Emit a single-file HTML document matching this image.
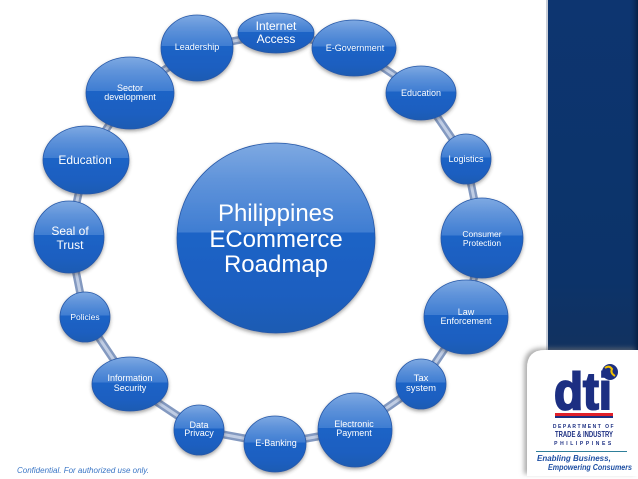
<!DOCTYPE html>
<html><head><meta charset="utf-8"><style>
html,body{margin:0;padding:0;background:#fff;}
body{width:638px;height:479px;overflow:hidden;position:relative;font-family:"Liberation Sans",sans-serif;}
svg{position:absolute;left:0;top:0;}
</style></head><body>
<svg width="638" height="479" viewBox="0 0 638 479" xmlns="http://www.w3.org/2000/svg">
<defs>
<linearGradient id="g" x1="0" y1="0" x2="0" y2="1">
<stop offset="0" stop-color="#7ea9e2"/>
<stop offset="0.2" stop-color="#5f93da"/>
<stop offset="0.47" stop-color="#3f7dd2"/>
<stop offset="0.47" stop-color="#1c64c6"/>
<stop offset="0.8" stop-color="#1a5ec0"/>
<stop offset="1" stop-color="#1f5cb2"/>
</linearGradient>
<linearGradient id="side" x1="0" y1="0" x2="0" y2="1">
<stop offset="0" stop-color="#0d3570"/>
<stop offset="0.8" stop-color="#0c3369"/>
<stop offset="1" stop-color="#12325f"/>
</linearGradient>
<linearGradient id="sideR" x1="0" y1="0" x2="1" y2="0">
<stop offset="0" stop-color="#0c2c5c" stop-opacity="0"/>
<stop offset="1" stop-color="#061d40" stop-opacity="0.9"/>
</linearGradient>
<filter id="sh" x="-30%" y="-30%" width="160%" height="170%">
<feDropShadow dx="0" dy="2" stdDeviation="1.8" flood-color="#333" flood-opacity="0.45"/>
</filter>
<filter id="bsh" x="-20%" y="-20%" width="140%" height="140%">
<feDropShadow dx="-3" dy="-2" stdDeviation="2.5" flood-color="#777" flood-opacity="0.6"/>
</filter>
</defs>

<!-- sidebar -->
<rect x="547" y="0" width="91" height="352" fill="url(#side)"/>
<rect x="630" y="0" width="8" height="352" fill="url(#sideR)"/>
<rect x="546" y="0" width="2" height="352" fill="#c9ced8"/>

<!-- logo box -->
<path d="M527 368 Q527 350 545 350 L638 350 L638 476 L527 476 Z" fill="#fff" filter="url(#bsh)"/>
<rect x="600" y="350" width="38" height="4" fill="#fff"/>

<!-- connectors -->
<polygon points="276,33 354,48 421,93 466,159 482,238 466,317 421,384 355,430 275,444 199,430 130,384 85,317 69,237 86,160 130,93 197,48" fill="none" stroke="#8399c0" stroke-width="8" stroke-linejoin="round"/>
<polygon points="276,33 354,48 421,93 466,159 482,238 466,317 421,384 355,430 275,444 199,430 130,384 85,317 69,237 86,160 130,93 197,48" fill="none" stroke="#c0cde4" stroke-width="3" stroke-linejoin="round"/>

<!-- nodes -->
<g fill="url(#g)" stroke="#2658a8" stroke-width="0.8" filter="url(#sh)">
<ellipse cx="276" cy="238" rx="99" ry="95"/>
<ellipse cx="276" cy="33" rx="38" ry="20"/>
<ellipse cx="197" cy="48" rx="36" ry="33"/>
<ellipse cx="130" cy="93" rx="44" ry="36"/>
<ellipse cx="86" cy="160" rx="43" ry="34"/>
<ellipse cx="69" cy="237" rx="35" ry="36"/>
<ellipse cx="85" cy="317" rx="25" ry="25"/>
<ellipse cx="130" cy="384" rx="38" ry="27"/>
<ellipse cx="199" cy="430" rx="25" ry="25"/>
<ellipse cx="275" cy="444" rx="31" ry="28"/>
<ellipse cx="355" cy="430" rx="37" ry="37"/>
<ellipse cx="421" cy="384" rx="25" ry="25"/>
<ellipse cx="466" cy="317" rx="42" ry="37"/>
<ellipse cx="482" cy="238" rx="41" ry="40"/>
<ellipse cx="466" cy="159" rx="25" ry="25"/>
<ellipse cx="421" cy="93" rx="35" ry="27"/>
<ellipse cx="354" cy="48" rx="42" ry="28"/>
</g>

<!-- labels -->
<g fill="#fff" font-family="'Liberation Sans', sans-serif" text-anchor="middle">
<text x="276" y="221" font-size="24">Philippines</text>
<text x="276" y="247" font-size="24">ECommerce</text>
<text x="276" y="272" font-size="24">Roadmap</text>

<text x="276" y="30" font-size="12">Internet</text>
<text x="276" y="43" font-size="12">Access</text>
<text x="197" y="50" font-size="9">Leadership</text>
<text x="130" y="91" font-size="9">Sector</text>
<text x="130" y="100" font-size="9">development</text>
<text x="85" y="164" font-size="12">Education</text>
<text x="70" y="235" font-size="12">Seal of</text>
<text x="70" y="249" font-size="12">Trust</text>
<text x="85" y="320" font-size="8.5">Policies</text>
<text x="130" y="381" font-size="9">Information</text>
<text x="130" y="391" font-size="9">Security</text>
<text x="199" y="428" font-size="9">Data</text>
<text x="199" y="436" font-size="9">Privacy</text>
<text x="276" y="446" font-size="9">E-Banking</text>
<text x="354" y="427" font-size="9">Electronic</text>
<text x="354" y="436" font-size="9">Payment</text>
<text x="421" y="381" font-size="9.5">Tax</text>
<text x="421" y="391" font-size="9.5">system</text>
<text x="466" y="315" font-size="9">Law</text>
<text x="466" y="324" font-size="9">Enforcement</text>
<text x="482" y="237" font-size="8.5">Consumer</text>
<text x="482" y="246" font-size="8.5">Protection</text>
<text x="466" y="162" font-size="9">Logistics</text>
<text x="421" y="96" font-size="9">Education</text>
<text x="355" y="51" font-size="9">E-Government</text>
</g>

<!-- confidential -->
<text x="17" y="473" font-size="8" font-style="italic" fill="#3a76c6" font-family="'Liberation Sans', sans-serif">Confidential.  For authorized use only.</text>

<!-- dti logo -->
<text x="583" y="409" font-size="52" font-weight="bold" fill="#1c2f82" stroke="#1c2f82" stroke-width="2" text-anchor="middle" font-family="'Liberation Sans', sans-serif" textLength="58" lengthAdjust="spacingAndGlyphs">dti</text>
<circle cx="610" cy="372" r="8" fill="#1c2f82"/>
<path d="M605 368 q4 -3 7 1 q-2 4 3 7" fill="none" stroke="#f2c200" stroke-width="2"/>
<rect x="555" y="413" width="58" height="3" fill="#e0202a"/>
<rect x="555" y="416" width="58" height="2" fill="#1c2f82"/>
<text x="584" y="428" font-size="5" font-weight="bold" fill="#1c2f82" text-anchor="middle" font-family="'Liberation Sans', sans-serif" letter-spacing="1.5">DEPARTMENT OF</text>
<text x="584" y="437" font-size="8" font-weight="bold" fill="#1c2f82" text-anchor="middle" font-family="'Liberation Sans', sans-serif" textLength="58" lengthAdjust="spacingAndGlyphs">TRADE &amp; INDUSTRY</text>
<text x="584" y="445" font-size="5" font-weight="bold" fill="#1c2f82" text-anchor="middle" font-family="'Liberation Sans', sans-serif" letter-spacing="2.6">PHILIPPINES</text>
<rect x="536" y="451" width="91" height="1" fill="#2f7f9a"/>
<text x="537" y="461" font-size="8" font-weight="bold" font-style="italic" fill="#1e4fa3" font-family="'Liberation Sans', sans-serif">Enabling Business,</text>
<text x="548" y="470" font-size="8" font-weight="bold" font-style="italic" fill="#1e4fa3" font-family="'Liberation Sans', sans-serif" textLength="84" lengthAdjust="spacingAndGlyphs">Empowering Consumers</text>
</svg>
</body></html>
